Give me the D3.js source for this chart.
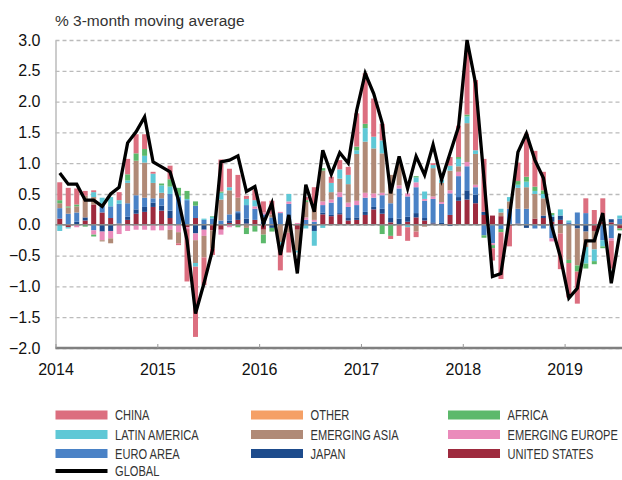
<!DOCTYPE html>
<html>
<head>
<meta charset="utf-8">
<script src="https://cdn.jsdelivr.net/npm/d3@7"></script>
<style>
  body { margin: 0; background: #fff; }
  text { font-family: "Liberation Sans", Arial, Helvetica, sans-serif; }
</style>
</head>
<body>
<div id="chart"></div>
<script>
// monthly, Jan 2014 .. Jul 2019
var years = [2014, 2015, 2016, 2017, 2018, 2019];
var yTicks = [-2, -1.5, -1, -0.5, 0, 0.5, 1, 1.5, 2, 2.5, 3];

var unitedStates = [0.10,-0.04,0,0.07,0.33,0.20,0.11,0.02,0.08,0.18,0.21,0.29,
  0.23,0.11,0,-0.04,0.11,0,-0.09,-0.08,0.03,0.08,0.02,0.08,
  -0.08,0,0,-0.03,-0.08,0,0,0.17,0.14,0.17,0.07,0.08,
  0.16,0.25,0.18,0.04,0.01,0.05,0.12,0.07,0.02,0,0.16,0.39,
  0.41,0.35,0.16,0.15,0.14,-0.02,0.02,0,0.10,0.11,0.05,0.08,
  0,0,0,-0.10,0.05,0.04,-0.06];
var japan = [0,0,0.05,0.05,0,-0.11,-0.10,0,0.05,0.07,0.08,0.07,
  0.08,0.12,0,0,-0.14,-0.08,0,0,0.04,0.11,0.08,0,
  0.05,-0.05,0,0,0,0,-0.10,0.03,0.02,0.02,0.04,0.04,
  0.05,0.04,0.08,0.07,0.09,0.08,0.07,0.04,0.02,0.03,-0.02,0.06,
  0.15,0.14,0.05,0,0,0,0,-0.05,0,0.04,0.08,0.07,
  0,-0.06,-0.11,0,0,0.05,0];
var euroArea = [0.17,0.18,0.15,0,-0.09,0.14,0.19,0.32,0.22,0.23,0.15,0.07,
  0.12,0.27,0.45,0.40,0.20,0.08,0.10,0.07,0.10,0.03,0.22,0.18,
  0.12,0.12,0.19,0.34,0,0.08,0.05,0.12,0.20,0.26,0.18,0.20,
  0.23,0.15,0.22,0.24,0.49,0.33,0.42,0.28,0.38,0.31,0.35,0.34,
  0.39,0.12,-0.17,-0.30,-0.07,0.26,0.24,0.26,-0.06,-0.06,-0.22,0,
  0.04,0.20,0.19,0,-0.25,-0.22,0.10];
var emergingEurope = [0,0,-0.04,0,-0.07,-0.14,-0.12,-0.15,-0.10,-0.08,-0.08,-0.09,
  -0.09,-0.08,-0.12,-0.03,-0.11,-0.10,0,-0.08,-0.04,0,0,0.04,
  0.03,0,0.02,0.04,0.03,0.04,0.03,0.06,0.05,0.08,0.07,0.07,
  0.08,0.07,0.04,0,0.05,0.05,0.08,0.03,0.04,0.03,0.05,0.07,
  0.07,0.04,0,-0.03,0,0,0,0,0,0,-0.05,0,
  0,0,0,0,0.03,-0.04,0];
var emergingAsia = [0.08,0.10,0.10,0.35,0.12,-0.02,-0.08,0,0.33,0.56,0.57,0.25,
  0.09,-0.16,-0.18,0,-0.37,-0.35,-0.30,0.34,0.39,0.22,-0.05,-0.02,
  -0.08,0.05,-0.28,-0.10,-0.34,0.25,0.22,0.50,0.12,0.22,0.30,0.76,
  0.83,0.73,0.64,0.46,0.35,0,-0.11,-0.03,0.46,0.31,0.32,0.09,
  0.63,0.50,0,0,0.06,0.12,0.34,0.35,0.40,0.28,0,-0.14,
  -0.57,-0.60,-0.25,-0.30,0,0,0];
var latinAmerica = [-0.10,-0.02,0,0,0.08,0.10,0.15,0.06,0.04,0,0.11,0.15,
  0.12,0.12,0.02,0.02,-0.06,0.02,0.03,0.11,0.05,0,0.10,0.10,
  0,0,-0.06,0.12,-0.03,-0.06,-0.24,-0.05,0.15,0.15,0.15,0.06,
  0.22,0.19,0.21,0,0,-0.04,0.08,0.12,0.05,0.05,0.08,0.12,
  0.11,0.06,0,0,0.06,0.07,0.05,0.09,0.05,0.07,0.03,0.10,
  0.03,0,-0.27,-0.19,-0.10,0,0.05];
var africa = [0.05,0.02,0.03,-0.03,-0.03,0,0,0,0.10,0.12,0.11,0,
  0.03,0.12,0.13,0.13,0.07,0,0.01,0.02,0,-0.04,-0.10,-0.09,
  -0.14,-0.06,0,0,0,0.03,0.04,0.04,0,0,0,0.06,
  0.07,0,-0.15,-0.18,0,0,0.02,0,0,0,0,0.03,
  0.03,0,-0.04,-0.05,-0.05,0,0.06,0.08,0.07,0.06,0.03,0,
  -0.05,-0.10,-0.08,-0.05,-0.03,0,-0.03];
var other = [0,0,0,0,0,0,0,0,0,0,0,0,
  0,0,0,0,0,0,0,0,0,0,0,0,
  0,0,0,0,0,0,0,0,0,0,0,0,
  0,0,0,0,0,0,0,0,0,0,0,0,
  0,0,0,0,0,0,0,0,0,0,0,0,
  0,0,0,0,0,0,0];
var china = [0.29,0.30,0.26,0.08,0.03,0,0,0.13,0.25,0.31,0.24,0.03,
  0,0.22,-0.03,-0.85,-1.14,-0.45,-0.10,0.52,0.30,0.37,0.05,0.17,
  0.18,0.22,-0.40,-0.32,0,0.05,0.27,0,0.10,0.15,0.13,0.54,
  0.82,0.62,0.27,-0.05,-0.18,-0.22,-0.09,0,0.03,0,0.14,0.51,
  1.04,1.14,0.86,-0.20,-0.76,-0.33,0.30,0.70,0.58,0.30,0,-0.58,
  -0.56,-0.52,0.24,0.24,0.35,-0.45,0];
var globalAvg = [0.84,0.66,0.66,0.40,0.40,0.30,0.50,0.61,1.33,1.51,1.75,1.02,
  0.94,0.86,0.40,-0.25,-1.44,-0.95,-0.41,1.02,1.05,1.12,0.54,0.62,
  0.02,0.35,-0.49,0.16,-0.79,0.65,0.21,1.21,0.82,1.17,1.00,1.86,
  2.46,2.13,1.65,0.51,1.11,0.59,1.11,0.81,1.30,0.73,1.16,1.59,
  3.00,2.30,0.75,-0.84,-0.79,0.13,1.18,1.48,1.05,0.76,-0.03,-0.52,
  -1.19,-1.03,-0.26,-0.26,0.19,-0.95,-0.14];

// stacking order from zero outward
var keys = ["us", "japan", "euro", "emEurope", "emAsia", "latam", "africa", "other", "china"];
var colors = {
  us: "#9e2a3e", japan: "#1d4b8c", euro: "#4a82c6", emEurope: "#ea8bbb",
  emAsia: "#b08a77", latam: "#5fc8d6", africa: "#5cb96b", other: "#f5a066", china: "#dc6e7f"
};
var legendItems = [
  ["CHINA", "china"], ["OTHER", "other"], ["AFRICA", "africa"],
  ["LATIN AMERICA", "latam"], ["EMERGING ASIA", "emAsia"], ["EMERGING EUROPE", "emEurope"],
  ["EURO AREA", "euro"], ["JAPAN", "japan"], ["UNITED STATES", "us"],
  ["GLOBAL", "global"]
];

var rows = d3.range(globalAvg.length).map(function (i) {
  return {
    i: i, us: unitedStates[i], japan: japan[i], euro: euroArea[i], emEurope: emergingEurope[i],
    emAsia: emergingAsia[i], latam: latinAmerica[i], africa: africa[i], other: other[i], china: china[i]
  };
});

var width = 622, height = 480;
var left = 55.5, right = 622;

var svg = d3.select("#chart").append("svg")
  .attr("width", width)
  .attr("height", height);

var x = d3.scaleLinear().domain([0, rows.length]).range([left, 624]);
var y = d3.scaleLinear().domain([-2, 3]).range([348, 40]);

// title
svg.append("text")
  .attr("x", 55)
  .attr("y", 26)
  .attr("font-size", "15.5px")
  .attr("fill", "#333")
  .text("% 3-month moving average");

// y axis + gridlines
var yAxis = svg.append("g")
  .attr("transform", "translate(" + left + ",0)")
  .call(d3.axisLeft(y).tickValues(yTicks).tickFormat(d3.format(".1f"))
    .tickSize(-(right - left)).tickSizeOuter(0).tickPadding(15));
yAxis.select(".domain").attr("stroke", "#999");
yAxis.selectAll(".tick line")
  .attr("stroke", "#bbb")
  .attr("stroke-width", 1.3)
  .attr("stroke-dasharray", "4,3");
yAxis.selectAll(".tick text")
  .attr("font-size", "16px")
  .attr("fill", "#111");

// stacked bars
var series = d3.stack().keys(keys).offset(d3.stackOffsetDiverging)(rows);
var barW = 5;

svg.append("g")
  .selectAll("g")
  .data(series)
  .enter()
  .append("g")
  .attr("fill", function (d) { return colors[d.key]; })
  .selectAll("rect")
  .data(function (d) { return d; })
  .enter()
  .append("rect")
  .attr("x", function (d) { return x(d.data.i + 0.5) - barW / 2; })
  .attr("y", function (d) { return y(Math.max(d[0], d[1])); })
  .attr("width", barW)
  .attr("height", function (d) { return Math.abs(y(d[0]) - y(d[1])); });

// zero line
svg.append("line")
  .attr("x1", left).attr("x2", right)
  .attr("y1", y(0)).attr("y2", y(0))
  .attr("stroke", "#8a8a8a")
  .attr("stroke-width", 1.5);

// x axis
var xAxis = svg.append("g")
  .attr("transform", "translate(0," + y(-2) + ")")
  .call(d3.axisBottom(x).tickValues(years.map(function (d, i) { return i * 12; }))
    .tickFormat(function (d) { return years[d / 12]; })
    .tickSize(-4).tickSizeOuter(0).tickPadding(16));
xAxis.select(".domain")
  .attr("d", "M" + left + ",0H" + right)
  .attr("stroke", "#808080")
  .attr("stroke-width", 2.5);
xAxis.selectAll(".tick line").attr("stroke", "#999");
xAxis.selectAll(".tick text")
  .attr("font-size", "16px")
  .attr("fill", "#111");

// global line
var line = d3.line()
  .x(function (d, i) { return x(i + 0.5); })
  .y(function (d) { return y(d); });

svg.append("path")
  .datum(globalAvg)
  .attr("fill", "none")
  .attr("stroke", "#000")
  .attr("stroke-width", 3.3)
  .attr("stroke-linejoin", "miter")
  .attr("d", line);

// legend (condensed caps, squeezed horizontally)
var colX = [55.5, 251, 448];
var rowY = [415, 434.5, 453.5, 471];
var legend = svg.append("g").attr("class", "legend");

legendItems.forEach(function (item, k) {
  var cx = colX[k % 3], cy = rowY[Math.floor(k / 3)];
  if (item[1] === "global") {
    legend.append("rect")
      .attr("x", cx).attr("y", cy - 2)
      .attr("width", 52).attr("height", 4)
      .attr("fill", "#000");
  } else {
    legend.append("rect")
      .attr("x", cx).attr("y", cy - 4.5)
      .attr("width", 52).attr("height", 9)
      .attr("fill", colors[item[1]]);
  }
  legend.append("text")
    .attr("transform", "translate(" + (cx + 59.5) + "," + cy + ") scale(0.74,1)")
    .attr("dy", "0.36em")
    .attr("font-size", "15px")
    .attr("fill", "#333")
    .text(item[0]);
});
</script>
</body>
</html>
